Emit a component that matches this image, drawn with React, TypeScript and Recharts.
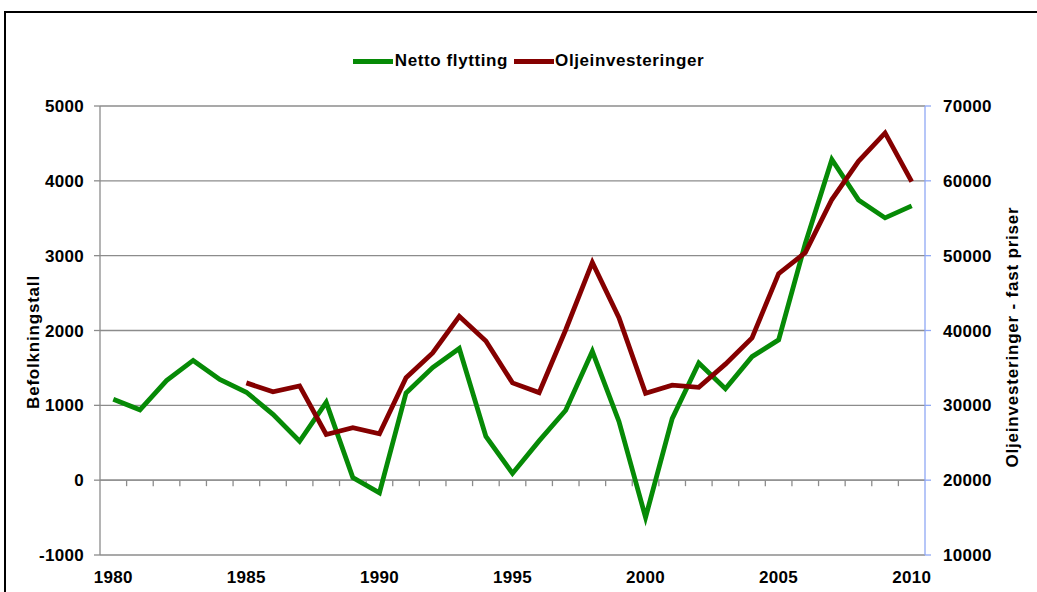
import React from "react";
import {
  LineChart,
  Line,
  XAxis,
  YAxis,
  CartesianGrid,
  ReferenceLine,
  Legend,
} from "recharts";

// ---- data ----
const years = [
  1980, 1981, 1982, 1983, 1984, 1985, 1986, 1987, 1988, 1989, 1990, 1991,
  1992, 1993, 1994, 1995, 1996, 1997, 1998, 1999, 2000, 2001, 2002, 2003,
  2004, 2005, 2006, 2007, 2008, 2009, 2010,
];

// Netto flytting (left axis, Befolkningstall)
const nettoFlytting = [
  1080, 940, 1330, 1600, 1345, 1175, 880, 520, 1040, 35, -170, 1165, 1505,
  1760, 585, 90, 525, 935, 1722, 785, -498, 822, 1565, 1222, 1650, 1875, 3160,
  4285, 3745, 3505, 3665,
];

// Oljeinvesteringer - fast priser (right axis), from 1985
const oljeStartYear = 1985;
const oljeinvesteringer = [
  33000, 31800, 32600, 26100, 27000, 26200, 33700, 37000, 41900, 38600, 33000,
  31700, 40100, 49100, 41700, 31600, 32700, 32400, 35500, 39000, 47600, 50400,
  57500, 62600, 66400, 59900,
];

const leftTicks = [-1000, 0, 1000, 2000, 3000, 4000, 5000];
const rightTicks = [10000, 20000, 30000, 40000, 50000, 60000, 70000];
const xTicks = [1980, 1985, 1990, 1995, 2000, 2005, 2010];

const seriesNames = {
  netto: "Netto flytting",
  olje: "Oljeinvesteringer",
};
const leftTitle = "Befolkningstall";
const rightTitle = "Oljeinvesteringer - fast priser";

const GREEN = "#068a06";
const RED = "#850000";
const GRID = "#8c8c8c";
const BLUE_AXIS = "#8fa8f5";
const FONT = "'Liberation Sans', Arial, sans-serif";

const data = years.map((y, i) => {
  const oi = y - oljeStartYear;
  return {
    year: y,
    netto: nettoFlytting[i],
    olje: oi >= 0 && oi < oljeinvesteringer.length ? oljeinvesteringer[oi] : null,
  };
});

// category boundaries for the small tick marks on the zero line
const boundaries = years.slice(0, years.length - 1).map((y) => y + 0.5);

const tickStyle = {
  fill: "#000",
  fontSize: 17,
  fontWeight: 700,
  fontFamily: FONT,
  letterSpacing: 0.3,
};

const LegendContent = () => (
  <div
    style={{
      display: "flex",
      justifyContent: "center",
      alignItems: "center",
      fontFamily: FONT,
      fontWeight: 700,
      fontSize: 17,
      letterSpacing: 0.6,
      color: "#000",
      height: 20,
      lineHeight: "20px",
    }}
  >
    <span
      style={{
        display: "inline-block",
        width: 40,
        height: 5,
        background: GREEN,
        marginRight: 2,
      }}
    />
    <span style={{ marginRight: 6 }}>{seriesNames.netto}</span>
    <span
      style={{
        display: "inline-block",
        width: 40,
        height: 5,
        background: RED,
        marginRight: 1,
      }}
    />
    <span>{seriesNames.olje}</span>
  </div>
);

const titleStyle: React.CSSProperties = {
  position: "absolute",
  transform: "translate(-50%, -50%) rotate(-90deg)",
  whiteSpace: "nowrap",
  fontWeight: 700,
  fontSize: 17,
  letterSpacing: 0.8,
  color: "#000",
  lineHeight: "19px",
};

export default function App() {
  return (
    <div
      style={{
        position: "fixed",
        left: 0,
        top: 0,
        width: 1037,
        height: 592,
        overflow: "hidden",
        background: "#fff",
        fontFamily: FONT,
      }}
    >
      <div
        style={{
          position: "absolute",
          left: 4,
          top: 11,
          width: 1100,
          height: 700,
          border: "2px solid #000",
        }}
      />
      <div style={{ position: "absolute", left: 0, top: 0 }}>
        <LineChart
          width={1037}
          height={592}
          data={data}
          margin={{ top: 106, right: 0, bottom: 0, left: 0 }}
        >
          <CartesianGrid
            yAxisId="left"
            vertical={false}
            stroke={GRID}
            strokeWidth={1.3}
          />
          <XAxis
            dataKey="year"
            type="number"
            domain={[1979.5, 2010.5]}
            ticks={xTicks}
            interval={0}
            axisLine={false}
            tickLine={false}
            tickSize={0}
            tickMargin={16}
            height={37}
            tick={tickStyle}
          />
          <YAxis
            yAxisId="left"
            orientation="left"
            type="number"
            domain={[-1000, 5000]}
            ticks={leftTicks}
            interval={0}
            width={100}
            tickSize={6}
            tickMargin={10}
            axisLine={{ stroke: GRID, strokeWidth: 1.3 }}
            tickLine={{ stroke: GRID, strokeWidth: 1.3 }}
            tick={tickStyle}
          />
          <YAxis
            yAxisId="right"
            orientation="right"
            type="number"
            domain={[10000, 70000]}
            ticks={rightTicks}
            interval={0}
            width={112}
            tickSize={6}
            tickMargin={12}
            axisLine={{ stroke: BLUE_AXIS, strokeWidth: 1.3 }}
            tickLine={{ stroke: BLUE_AXIS, strokeWidth: 1.3 }}
            tick={{ ...tickStyle, textAnchor: "start" }}
          />
          <ReferenceLine
            yAxisId="left"
            y={0}
            stroke={GRID}
            strokeWidth={1.3}
          />
          {boundaries.map((b) => (
            <ReferenceLine
              key={b}
              yAxisId="left"
              stroke={GRID}
              strokeWidth={1.3}
              segment={[
                { x: b, y: 0 },
                { x: b, y: -80 },
              ]}
            />
          ))}
          <Legend
            verticalAlign="middle"
            align="center"
            layout="horizontal"
            content={<LegendContent />}
            wrapperStyle={{
              position: "absolute",
              top: 51,
              left: 10,
              width: 1037,
              height: 20,
            }}
          />
          <Line
            yAxisId="left"
            type="linear"
            dataKey="netto"
            name={seriesNames.netto}
            stroke={GREEN}
            strokeWidth={4.8}
            dot={false}
            activeDot={false}
            isAnimationActive={false}
          />
          <Line
            yAxisId="right"
            type="linear"
            dataKey="olje"
            name={seriesNames.olje}
            stroke={RED}
            strokeWidth={4.8}
            dot={false}
            activeDot={false}
            connectNulls={false}
            isAnimationActive={false}
          />
        </LineChart>
      </div>
      <div style={{ ...titleStyle, left: 33, top: 342 }}>{leftTitle}</div>
      <div style={{ ...titleStyle, left: 1012, top: 337 }}>{rightTitle}</div>
    </div>
  );
}
